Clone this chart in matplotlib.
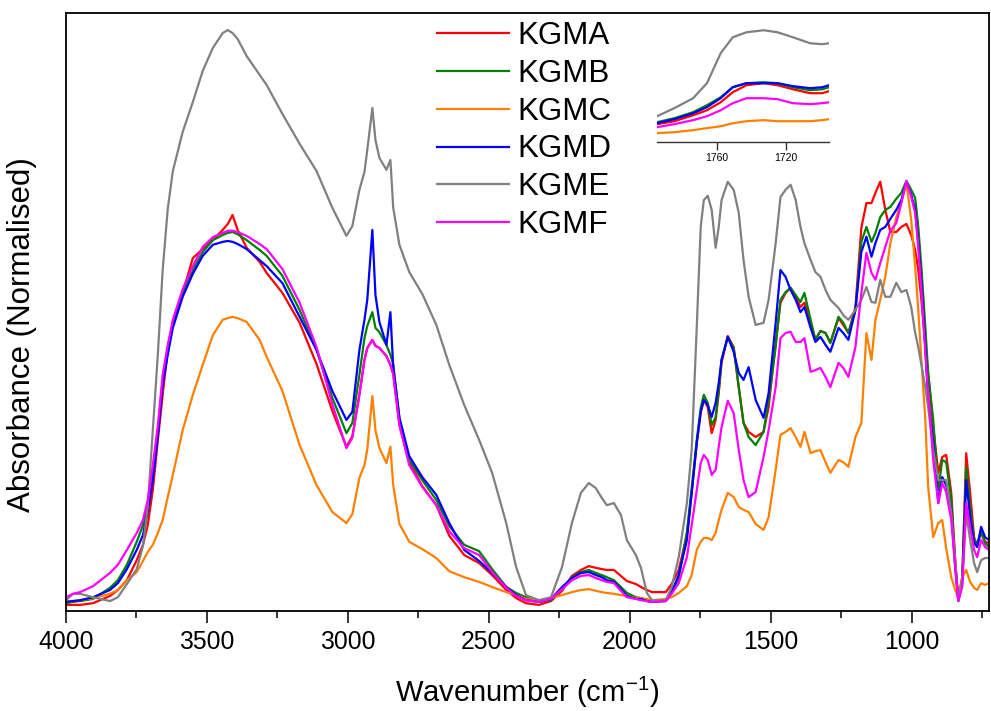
import matplotlib
matplotlib.use("Agg")
import matplotlib.pyplot as plt
from matplotlib.ticker import MultipleLocator

plt.rcParams["font.family"] = ["Liberation Sans", "DejaVu Sans"]
plt.rcParams["mathtext.fontset"] = "custom"
plt.rcParams["mathtext.rm"] = "Liberation Sans"
plt.rcParams["mathtext.it"] = "Liberation Sans:italic"

# wavenumber grid (cm-1), shared by all samples
wavenumber = [
    4000, 3975, 3950, 3904, 3844, 3816, 3784, 3749, 3727, 3710,
    3692, 3674, 3657, 3639, 3621, 3586, 3550, 3515, 3479, 3444,
    3426, 3409, 3391, 3359, 3313, 3288, 3232, 3171, 3111, 3055,
    3005, 2984, 2959, 2941, 2931, 2913, 2902, 2888, 2863, 2849,
    2839, 2817, 2782, 2736, 2686, 2640, 2587, 2534, 2488, 2438,
    2403, 2368, 2322, 2279, 2240, 2205, 2173, 2145, 2120, 2099,
    2081, 2056, 2031, 2010, 1978, 1960, 1939, 1921, 1872, 1851,
    1826, 1797, 1780, 1762, 1748, 1737, 1723, 1709, 1695, 1684,
    1674, 1652, 1631, 1613, 1596, 1578, 1553, 1525, 1507, 1482,
    1465, 1447, 1429, 1411, 1394, 1380, 1358, 1341, 1323, 1305,
    1288, 1259, 1242, 1224, 1199, 1178, 1160, 1142, 1128, 1111,
    1093, 1075, 1054, 1036, 1018, 1001, 987, 976, 965, 951,
    941, 923, 905, 891, 877, 859, 845, 834, 820, 806,
    792, 778, 767, 753, 739, 725,
]

kgma = [
    .005, .005, .005, .009, .026, .040, .063, .110, .146, .192,
    .275, .392, .498, .603, .664, .737, .819, .840, .861, .885,
    .899, .920, .885, .843, .810, .784, .737, .667, .570, .460,
    .376, .401, .498, .580, .608, .627, .613, .608, .589, .568,
    .547, .427, .340, .284, .239, .167, .122, .103, .075, .040,
    .021, .009, .005, .014, .038, .073, .087, .096, .092, .089,
    .087, .087, .073, .061, .054, .047, .040, .035, .035, .054,
    .087, .169, .268, .385, .455, .486, .469, .408, .439, .502,
    .573, .636, .610, .516, .432, .411, .399, .411, .469, .620,
    .714, .737, .749, .728, .704, .714, .669, .627, .648, .643,
    .620, .678, .662, .643, .704, .890, .948, .948, .972, .998,
    .932, .880, .880, .892, .899, .873, .838, .791, .721, .615,
    .549, .423, .315, .352, .357, .268, .110, .016, .070, .361,
    .268, .164, .141, .181, .153, .150,
]

kgmb = [
    .009, .012, .014, .019, .045, .063, .099, .153, .192, .239,
    .310, .415, .533, .608, .664, .737, .791, .833, .861, .873,
    .878, .880, .875, .861, .838, .824, .777, .697, .603, .491,
    .408, .432, .545, .631, .660, .692, .655, .645, .615, .592,
    .570, .444, .345, .298, .251, .190, .146, .131, .089, .047,
    .033, .023, .012, .016, .042, .070, .082, .087, .080, .075,
    .070, .063, .047, .033, .023, .021, .016, .012, .016, .033,
    .068, .176, .279, .392, .467, .498, .479, .427, .446, .509,
    .580, .634, .608, .516, .432, .399, .380, .411, .486, .610,
    .721, .739, .749, .732, .716, .737, .674, .627, .648, .643,
    .620, .681, .667, .643, .697, .857, .892, .857, .878, .915,
    .932, .939, .958, .972, 1.00, .979, .960, .892, .798, .657,
    .549, .439, .275, .345, .340, .251, .103, .016, .063, .329,
    .235, .157, .150, .174, .150, .141,
]

kgmc = [
    .014, .014, .016, .021, .031, .040, .063, .082, .108, .129,
    .146, .174, .204, .258, .310, .415, .498, .568, .638, .674,
    .678, .681, .678, .669, .627, .587, .507, .380, .286, .223,
    .197, .218, .303, .333, .370, .495, .415, .373, .338, .376,
    .286, .195, .153, .136, .115, .084, .070, .059, .047, .035,
    .028, .019, .016, .021, .028, .035, .040, .042, .038, .035,
    .033, .031, .028, .026, .021, .021, .019, .016, .019, .023,
    .033, .049, .075, .134, .153, .162, .162, .157, .174, .204,
    .228, .268, .258, .235, .228, .223, .195, .181, .211, .322,
    .404, .411, .420, .399, .376, .411, .361, .366, .368, .340,
    .315, .345, .340, .329, .399, .432, .643, .580, .674, .721,
    .775, .854, .915, .951, .995, .908, .798, .697, .580, .439,
    .282, .164, .197, .204, .138, .070, .040, .023, .070, .087,
    .059, .045, .040, .056, .052, .056,
]

kgmd = [
    .012, .014, .016, .023, .040, .056, .089, .134, .169, .223,
    .298, .404, .521, .592, .655, .728, .782, .824, .850, .857,
    .859, .857, .852, .840, .814, .800, .760, .681, .603, .507,
    .439, .458, .603, .674, .721, .885, .732, .669, .615, .692,
    .563, .444, .354, .305, .263, .197, .134, .108, .080, .047,
    .028, .016, .012, .019, .047, .068, .080, .082, .075, .070,
    .063, .059, .042, .026, .019, .019, .014, .012, .014, .035,
    .075, .157, .268, .385, .458, .486, .474, .446, .479, .526,
    .580, .634, .599, .549, .533, .563, .486, .444, .502, .667,
    .791, .775, .744, .721, .692, .704, .655, .622, .634, .615,
    .599, .655, .643, .627, .697, .833, .869, .822, .854, .885,
    .892, .911, .932, .955, .998, .967, .932, .854, .761, .610,
    .486, .385, .244, .305, .286, .228, .094, .014, .056, .298,
    .211, .150, .141, .188, .164, .157,
]

kgme = [
    .016, .031, .031, .023, .014, .023, .054, .089, .143, .235,
    .413, .594, .791, .934, 1.023, 1.115, 1.185, 1.258, 1.312, 1.347,
    1.354, 1.347, 1.333, 1.293, 1.249, 1.225, 1.157, 1.087, 1.023, .937,
    .871, .894, .979, 1.021, 1.073, 1.171, 1.096, 1.054, 1.026, 1.049,
    .937, .850, .786, .735, .662, .568, .474, .392, .315, .197,
    .094, .028, .016, .023, .094, .197, .268, .291, .279, .256,
    .239, .244, .216, .157, .122, .092, .033, .016, .016, .047,
    .117, .244, .369, .657, .892, .955, .965, .932, .843, .892,
    .955, .998, .979, .925, .814, .728, .662, .667, .721, .854,
    .962, .979, .991, .955, .892, .854, .814, .786, .775, .744,
    .721, .702, .685, .674, .697, .721, .751, .716, .714, .768,
    .728, .728, .761, .739, .744, .704, .643, .610, .568, .516,
    .469, .369, .298, .298, .298, .221, .110, .016, .070, .221,
    .157, .103, .082, .110, .115, .115,
]

kgmf = [
    .023, .031, .035, .049, .080, .099, .134, .174, .204, .251,
    .333, .427, .545, .615, .674, .746, .800, .845, .868, .878,
    .883, .883, .880, .871, .852, .840, .793, .714, .610, .476,
    .373, .397, .498, .580, .608, .627, .613, .608, .589, .568,
    .547, .427, .333, .282, .239, .178, .138, .122, .082, .045,
    .026, .016, .012, .019, .042, .063, .073, .075, .068, .063,
    .059, .056, .038, .023, .019, .016, .014, .012, .014, .031,
    .056, .117, .192, .275, .338, .357, .345, .310, .322, .376,
    .422, .484, .455, .369, .298, .258, .270, .352, .415, .516,
    .631, .643, .646, .622, .622, .631, .552, .556, .561, .540,
    .516, .573, .561, .540, .610, .737, .831, .784, .768, .807,
    .845, .883, .901, .948, 1.00, .962, .925, .845, .744, .596,
    .502, .345, .244, .291, .270, .204, .094, .014, .047, .244,
    .188, .134, .117, .157, .141, .134,
]

# carbonyl region shown in the inset
inset_wn = [1795, 1785, 1774, 1766, 1758, 1751, 1743, 1733, 1725, 1716, 1706, 1699, 1695]
inset_kgma = [.176, .201, .251, .293, .360, .444, .503, .520, .503, .469, .436, .436, .453]
inset_kgmb = [.193, .226, .277, .335, .402, .486, .520, .528, .520, .486, .461, .469, .486]
inset_kgmc = [.101, .109, .126, .143, .159, .184, .201, .210, .201, .201, .201, .210, .218]
inset_kgmd = [.184, .218, .268, .319, .394, .486, .520, .520, .520, .495, .478, .486, .503]
inset_kgme = [.243, .310, .394, .520, .771, .905, .947, .964, .947, .905, .855, .847, .855]
inset_kgmf = [.151, .176, .210, .243, .293, .352, .394, .394, .386, .352, .344, .352, .360]

labels = ["KGMA", "KGMB", "KGMC", "KGMD", "KGME", "KGMF"]
colors = ["#ff0000", "#008000", "#ff8000", "#0000ff", "#808080", "#ff00ff"]
spectra = [kgma, kgmb, kgmc, kgmd, kgme, kgmf]
inset_spectra = [inset_kgma, inset_kgmb, inset_kgmc, inset_kgmd, inset_kgme, inset_kgmf]

fig = plt.figure(figsize=(9.91, 7.11), dpi=100)
ax = fig.add_axes([0.0666, 0.1406, 0.9314, 0.8411])

for y, lab, col in zip(spectra, labels, colors):
    ax.plot(wavenumber, y, color=col, lw=1.6, label=lab)

ax.set_xlim(4000, 725)
ax.set_ylim(-0.0094, 1.394)
ax.xaxis.set_major_locator(MultipleLocator(500))
ax.xaxis.set_minor_locator(MultipleLocator(250))
ax.set_yticks([])
ax.tick_params(axis="x", which="major", direction="out", length=8.6, width=1.1,
               labelsize=17.8, pad=5)
ax.tick_params(axis="x", which="minor", direction="out", length=5, width=1.1)
for s in ax.spines.values():
    s.set_linewidth(1.3)
ax.set_xlabel("Wavenumber (cm$^{-1}$)", fontsize=21, labelpad=15)
ax.set_ylabel("Absorbance (Normalised)", fontsize=22.5)
ax.yaxis.set_label_coords(-0.031, 0.4615)

ax.legend(loc="upper left", bbox_to_anchor=(437 / 991, 1 - 21 / 711),
          bbox_transform=fig.transFigure, frameon=False, fontsize=22.5,
          borderaxespad=0, borderpad=0, handlelength=2.3, handletextpad=0.28,
          labelspacing=0.25)

ins = fig.add_axes([0.663, 0.800, 0.1736, 0.1786])
ins.patch.set_alpha(0)
for y, col in zip(inset_spectra, colors):
    ins.plot(inset_wn, y, color=col, lw=1.6)
ins.set_xlim(1795, 1695)
ins.set_ylim(0.025, 1.09)
ins.xaxis.set_major_locator(MultipleLocator(40))
ins.set_yticks([])
for side in ["top", "left", "right"]:
    ins.spines[side].set_visible(False)
ins.spines["bottom"].set_linewidth(1.0)
ins.spines["bottom"].set_color("#333333")
ins.tick_params(axis="x", direction="out", length=6, width=1.0, labelsize=7.5,
                pad=2, color="#333333")

fig.savefig("out.png", dpi=100)
